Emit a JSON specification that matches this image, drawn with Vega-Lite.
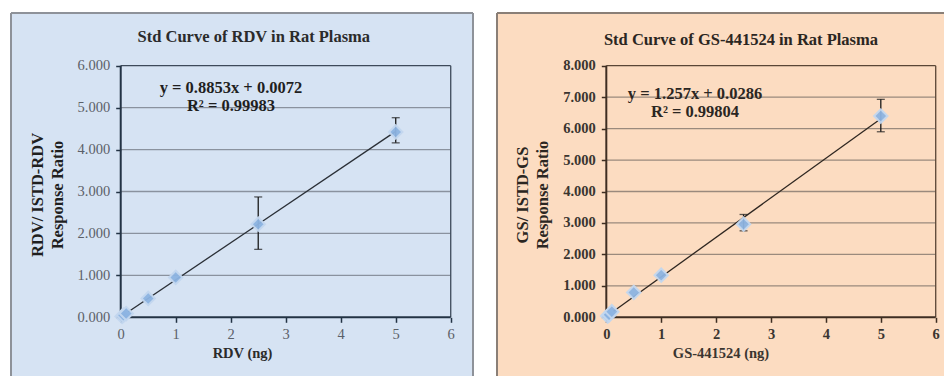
{
  "$schema": "https://vega.github.io/schema/vega-lite/v6.json",
  "padding": {"left": 10, "top": 12, "right": 0, "bottom": 0},
  "background": "white",
  "spacing": 22,
  "config": {"view": {"stroke": null}, "font": "Liberation Serif"},
  "datasets": {
    "rdv": [
      {"x": 0.025, "y": 0.02},
      {"x": 0.05, "y": 0.05},
      {"x": 0.1, "y": 0.09},
      {"x": 0.5, "y": 0.45},
      {"x": 1, "y": 0.95},
      {"x": 2.5, "y": 2.22, "lo": 1.62, "hi": 2.87},
      {"x": 5, "y": 4.42, "lo": 4.16, "hi": 4.76}
    ],
    "gs": [
      {"x": 0.025, "y": 0.04},
      {"x": 0.05, "y": 0.08},
      {"x": 0.1, "y": 0.18},
      {"x": 0.5, "y": 0.79},
      {"x": 1, "y": 1.34},
      {"x": 2.5, "y": 2.96, "lo": 2.75, "hi": 3.27},
      {"x": 5, "y": 6.4, "lo": 5.9, "hi": 6.93}
    ],
    "rdvFit": [{"x": 0.025, "y": 0.0293}, {"x": 5, "y": 4.4337}],
    "gsFit": [{"x": 0.025, "y": 0.06}, {"x": 5, "y": 6.3136}],
    "gridL": [{"g": 1}, {"g": 2}, {"g": 3}, {"g": 4}, {"g": 5}],
    "gridR": [{"g": 1}, {"g": 2}, {"g": 3}, {"g": 4}, {"g": 5}, {"g": 6}, {"g": 7}],
    "one": [{}]
  },
  "hconcat": [
    {
      "width": 462,
      "height": 363,
      "view": {"fill": "#d6e3f3", "stroke": null},
      "resolve": {"axis": {"x": "independent", "y": "independent"}},
      "layer": [
        {
          "data": {"name": "gridL"},
          "mark": {"type": "rule", "color": "#8a929e", "strokeWidth": 1.3},
          "encoding": {
            "y": {"field": "g", "type": "quantitative", "scale": {"domain": [-1.4, 7.257], "nice": false, "zero": false}, "axis": null},
            "x": {"datum": 0, "type": "quantitative", "scale": {"domain": [-1.995, 6.405], "nice": false, "zero": false}, "axis": null},
            "x2": {"datum": 6}
          }
        },
        {
          "data": {"name": "one"},
          "mark": {"type": "rule", "color": "#3d4a5a", "strokeWidth": 1.3},
          "encoding": {
            "y": {"datum": 6, "type": "quantitative", "scale": {"domain": [-1.4, 7.257], "nice": false, "zero": false}, "axis": null},
            "x": {"datum": 0, "type": "quantitative", "scale": {"domain": [-1.995, 6.405], "nice": false, "zero": false}, "axis": null},
            "x2": {"datum": 6}
          }
        },
        {
          "data": {"name": "one"},
          "mark": {"type": "rule", "color": "#3d4a5a", "strokeWidth": 1.3},
          "encoding": {
            "x": {"datum": 6, "type": "quantitative", "scale": {"domain": [-1.995, 6.405], "nice": false, "zero": false}, "axis": null},
            "y": {"datum": 0, "type": "quantitative", "scale": {"domain": [-1.4, 7.257], "nice": false, "zero": false}, "axis": null},
            "y2": {"datum": 6}
          }
        },
        {
          "data": {"name": "one"},
          "mark": {"type": "rule", "color": "#233344", "strokeWidth": 2},
          "encoding": {
            "x": {"datum": 0, "type": "quantitative", "scale": {"domain": [-1.995, 6.405], "nice": false, "zero": false}, "axis": null},
            "y": {"datum": 0, "type": "quantitative", "scale": {"domain": [-1.4, 7.257], "nice": false, "zero": false}, "axis": null},
            "y2": {"datum": 6}
          }
        },
        {
          "data": {"name": "one"},
          "mark": {"type": "rule", "color": "#233344", "strokeWidth": 2},
          "encoding": {
            "y": {"datum": 0, "type": "quantitative", "scale": {"domain": [-1.4, 7.257], "nice": false, "zero": false}, "axis": null},
            "x": {"datum": 0, "type": "quantitative", "scale": {"domain": [-1.995, 6.405], "nice": false, "zero": false}, "axis": null},
            "x2": {"datum": 6}
          }
        },
        {
          "data": {"name": "one"},
          "mark": {"type": "rule", "color": "#8e9299", "strokeWidth": 2},
          "encoding": {
            "x": {"datum": -1.995, "type": "quantitative", "scale": {"domain": [-1.995, 6.405], "nice": false, "zero": false}, "axis": null},
            "y": {"datum": -1.4, "type": "quantitative", "scale": {"domain": [-1.4, 7.257], "nice": false, "zero": false}, "axis": null},
            "y2": {"datum": 7.257}
          }
        },
        {
          "data": {"name": "one"},
          "mark": {"type": "rule", "color": "#8e9299", "strokeWidth": 2},
          "encoding": {
            "x": {"datum": 6.405, "type": "quantitative", "scale": {"domain": [-1.995, 6.405], "nice": false, "zero": false}, "axis": null},
            "y": {"datum": -1.4, "type": "quantitative", "scale": {"domain": [-1.4, 7.257], "nice": false, "zero": false}, "axis": null},
            "y2": {"datum": 7.257}
          }
        },
        {
          "data": {"name": "one"},
          "mark": {"type": "rule", "color": "#8e9299", "strokeWidth": 2},
          "encoding": {
            "y": {"datum": 7.257, "type": "quantitative", "scale": {"domain": [-1.4, 7.257], "nice": false, "zero": false}, "axis": null},
            "x": {"datum": -1.995, "type": "quantitative", "scale": {"domain": [-1.995, 6.405], "nice": false, "zero": false}, "axis": null},
            "x2": {"datum": 6.405}
          }
        },
        {
          "data": {"name": "rdvFit"},
          "mark": {"type": "line", "color": "#2a2f36", "strokeWidth": 1.3},
          "encoding": {
            "x": {"field": "x", "type": "quantitative", "scale": {"domain": [-1.995, 6.405], "nice": false, "zero": false}, "axis": null},
            "y": {"field": "y", "type": "quantitative", "scale": {"domain": [-1.4, 7.257], "nice": false, "zero": false}, "axis": null}
          }
        },
        {
          "data": {"name": "rdv"},
          "transform": [{"filter": "isValid(datum.lo)"}],
          "mark": {"type": "rule", "color": "#1a1a1a", "strokeWidth": 1.3},
          "encoding": {
            "x": {"field": "x", "type": "quantitative", "scale": {"domain": [-1.995, 6.405], "nice": false, "zero": false}, "axis": null},
            "y": {"field": "lo", "type": "quantitative", "scale": {"domain": [-1.4, 7.257], "nice": false, "zero": false}, "axis": null},
            "y2": {"field": "hi"}
          }
        },
        {
          "data": {"name": "rdv"},
          "transform": [{"filter": "isValid(datum.lo)"}, {"fold": ["lo", "hi"], "as": ["k", "v"]}],
          "mark": {"type": "tick", "orient": "horizontal", "color": "#1a1a1a", "size": 8, "thickness": 1.3},
          "encoding": {
            "x": {"field": "x", "type": "quantitative", "scale": {"domain": [-1.995, 6.405], "nice": false, "zero": false}, "axis": null},
            "y": {"field": "v", "type": "quantitative", "scale": {"domain": [-1.4, 7.257], "nice": false, "zero": false}, "axis": null}
          }
        },
        {
          "data": {"name": "rdv"},
          "mark": {"type": "point", "shape": "diamond", "filled": true, "size": 180, "color": "#8db4e2", "stroke": "#c3d7ef", "strokeWidth": 2, "opacity": 0.95},
          "encoding": {
            "x": {
              "field": "x", "type": "quantitative",
              "scale": {"domain": [-1.995, 6.405], "nice": false, "zero": false},
              "axis": {
                "values": [0, 1, 2, 3, 4, 5, 6], "format": "d", "offset": -58.7,
                "domain": false, "grid": false, "tickSize": 5, "tickColor": "#233344", "tickWidth": 1.5,
                "labelFont": "Liberation Serif", "labelFontSize": 14.5, "labelColor": "#5b6068", "labelPadding": 5,
                "labelOverlap": false, "labelFlush": false,
                "title": "RDV (ng)", "titleFont": "Liberation Serif", "titleFontSize": 14.5, "titleFontWeight": "bold",
                "titleColor": "#2b2b2b", "titlePadding": 6
              }
            },
            "y": {
              "field": "y", "type": "quantitative",
              "scale": {"domain": [-1.4, 7.257], "nice": false, "zero": false},
              "axis": {
                "values": [0, 1, 2, 3, 4, 5, 6], "format": ".3f", "offset": -109.7,
                "domain": false, "grid": false, "tickSize": 5, "tickColor": "#233344", "tickWidth": 1.5,
                "labelFont": "Liberation Serif", "labelFontSize": 14.5, "labelColor": "#5b6068", "labelPadding": 6,
                "labelOverlap": false, "labelFlush": false,
                "title": ["RDV/ ISTD-RDV", "Response Ratio"], "titleFont": "Liberation Serif", "titleFontSize": 16.5,
                "titleFontWeight": "bold", "titleColor": "#1f1f1f", "titlePadding": 12, "titleLineHeight": 20
              }
            }
          }
        },
        {
          "data": {"name": "one"},
          "mark": {"type": "text", "text": "Std Curve of RDV in Rat Plasma", "font": "Liberation Serif", "fontSize": 16.5, "fontWeight": "bold", "color": "#2b2b2b", "align": "center", "baseline": "middle"},
          "encoding": {
            "x": {"datum": 2.42, "type": "quantitative", "scale": {"domain": [-1.995, 6.405], "nice": false, "zero": false}, "axis": null},
            "y": {"datum": 6.692, "type": "quantitative", "scale": {"domain": [-1.4, 7.257], "nice": false, "zero": false}, "axis": null}
          }
        },
        {
          "data": {"name": "one"},
          "mark": {"type": "text", "text": ["y = 0.8853x + 0.0072", "R² = 0.99983"], "lineHeight": 18, "font": "Liberation Serif", "fontSize": 16.5, "fontWeight": "bold", "color": "#1f1f1f", "align": "center", "baseline": "middle"},
          "encoding": {
            "x": {"datum": 2.005, "type": "quantitative", "scale": {"domain": [-1.995, 6.405], "nice": false, "zero": false}, "axis": null},
            "y": {"datum": 5.468, "type": "quantitative", "scale": {"domain": [-1.4, 7.257], "nice": false, "zero": false}, "axis": null}
          }
        }
      ]
    },
    {
      "width": 447,
      "height": 363,
      "view": {"fill": "#fcdcc1", "stroke": null},
      "resolve": {"axis": {"x": "independent", "y": "independent"}},
      "layer": [
        {
          "data": {"name": "gridR"},
          "mark": {"type": "rule", "color": "#9a8a7d", "strokeWidth": 1.3},
          "encoding": {
            "y": {"field": "g", "type": "quantitative", "scale": {"domain": [-1.866, 9.676], "nice": false, "zero": false}, "axis": null},
            "x": {"datum": 0, "type": "quantitative", "scale": {"domain": [-1.991, 6.151], "nice": false, "zero": false}, "axis": null},
            "x2": {"datum": 6}
          }
        },
        {
          "data": {"name": "one"},
          "mark": {"type": "rule", "color": "#5a4636", "strokeWidth": 1.3},
          "encoding": {
            "y": {"datum": 8, "type": "quantitative", "scale": {"domain": [-1.866, 9.676], "nice": false, "zero": false}, "axis": null},
            "x": {"datum": 0, "type": "quantitative", "scale": {"domain": [-1.991, 6.151], "nice": false, "zero": false}, "axis": null},
            "x2": {"datum": 6}
          }
        },
        {
          "data": {"name": "one"},
          "mark": {"type": "rule", "color": "#5a4636", "strokeWidth": 1.3},
          "encoding": {
            "x": {"datum": 6, "type": "quantitative", "scale": {"domain": [-1.991, 6.151], "nice": false, "zero": false}, "axis": null},
            "y": {"datum": 0, "type": "quantitative", "scale": {"domain": [-1.866, 9.676], "nice": false, "zero": false}, "axis": null},
            "y2": {"datum": 8}
          }
        },
        {
          "data": {"name": "one"},
          "mark": {"type": "rule", "color": "#3e2e22", "strokeWidth": 2},
          "encoding": {
            "x": {"datum": 0, "type": "quantitative", "scale": {"domain": [-1.991, 6.151], "nice": false, "zero": false}, "axis": null},
            "y": {"datum": 0, "type": "quantitative", "scale": {"domain": [-1.866, 9.676], "nice": false, "zero": false}, "axis": null},
            "y2": {"datum": 8}
          }
        },
        {
          "data": {"name": "one"},
          "mark": {"type": "rule", "color": "#3e2e22", "strokeWidth": 2},
          "encoding": {
            "y": {"datum": 0, "type": "quantitative", "scale": {"domain": [-1.866, 9.676], "nice": false, "zero": false}, "axis": null},
            "x": {"datum": 0, "type": "quantitative", "scale": {"domain": [-1.991, 6.151], "nice": false, "zero": false}, "axis": null},
            "x2": {"datum": 6}
          }
        },
        {
          "data": {"name": "one"},
          "mark": {"type": "rule", "color": "#8a7f77", "strokeWidth": 2},
          "encoding": {
            "x": {"datum": -1.991, "type": "quantitative", "scale": {"domain": [-1.991, 6.151], "nice": false, "zero": false}, "axis": null},
            "y": {"datum": -1.866, "type": "quantitative", "scale": {"domain": [-1.866, 9.676], "nice": false, "zero": false}, "axis": null},
            "y2": {"datum": 9.676}
          }
        },
        {
          "data": {"name": "one"},
          "mark": {"type": "rule", "color": "#8a7f77", "strokeWidth": 2},
          "encoding": {
            "y": {"datum": 9.676, "type": "quantitative", "scale": {"domain": [-1.866, 9.676], "nice": false, "zero": false}, "axis": null},
            "x": {"datum": -1.991, "type": "quantitative", "scale": {"domain": [-1.991, 6.151], "nice": false, "zero": false}, "axis": null},
            "x2": {"datum": 6.151}
          }
        },
        {
          "data": {"name": "gsFit"},
          "mark": {"type": "line", "color": "#2e2620", "strokeWidth": 1.3},
          "encoding": {
            "x": {"field": "x", "type": "quantitative", "scale": {"domain": [-1.991, 6.151], "nice": false, "zero": false}, "axis": null},
            "y": {"field": "y", "type": "quantitative", "scale": {"domain": [-1.866, 9.676], "nice": false, "zero": false}, "axis": null}
          }
        },
        {
          "data": {"name": "gs"},
          "transform": [{"filter": "isValid(datum.lo)"}],
          "mark": {"type": "rule", "color": "#1a1a1a", "strokeWidth": 1.3},
          "encoding": {
            "x": {"field": "x", "type": "quantitative", "scale": {"domain": [-1.991, 6.151], "nice": false, "zero": false}, "axis": null},
            "y": {"field": "lo", "type": "quantitative", "scale": {"domain": [-1.866, 9.676], "nice": false, "zero": false}, "axis": null},
            "y2": {"field": "hi"}
          }
        },
        {
          "data": {"name": "gs"},
          "transform": [{"filter": "isValid(datum.lo)"}, {"fold": ["lo", "hi"], "as": ["k", "v"]}],
          "mark": {"type": "tick", "orient": "horizontal", "color": "#1a1a1a", "size": 8, "thickness": 1.3},
          "encoding": {
            "x": {"field": "x", "type": "quantitative", "scale": {"domain": [-1.991, 6.151], "nice": false, "zero": false}, "axis": null},
            "y": {"field": "v", "type": "quantitative", "scale": {"domain": [-1.866, 9.676], "nice": false, "zero": false}, "axis": null}
          }
        },
        {
          "data": {"name": "gs"},
          "mark": {"type": "point", "shape": "diamond", "filled": true, "size": 180, "color": "#8db4e2", "stroke": "#c3d7ef", "strokeWidth": 2, "opacity": 0.95},
          "encoding": {
            "x": {
              "field": "x", "type": "quantitative",
              "scale": {"domain": [-1.991, 6.151], "nice": false, "zero": false},
              "axis": {
                "values": [0, 1, 2, 3, 4, 5, 6], "format": "d", "offset": -58.7,
                "domain": false, "grid": false, "tickSize": 5, "tickColor": "#3e2e22", "tickWidth": 1.5,
                "labelFont": "Liberation Serif", "labelFontSize": 14.5, "labelFontWeight": "bold", "labelColor": "#3a3530", "labelPadding": 5,
                "labelOverlap": false, "labelFlush": false,
                "title": "GS-441524 (ng)", "titleFont": "Liberation Serif", "titleFontSize": 14.5, "titleFontWeight": "bold",
                "titleColor": "#3a3530", "titlePadding": 6
              }
            },
            "y": {
              "field": "y", "type": "quantitative",
              "scale": {"domain": [-1.866, 9.676], "nice": false, "zero": false},
              "axis": {
                "values": [0, 1, 2, 3, 4, 5, 6, 7, 8], "format": ".3f", "offset": -109.3,
                "domain": false, "grid": false, "tickSize": 5, "tickColor": "#3e2e22", "tickWidth": 1.5,
                "labelFont": "Liberation Serif", "labelFontSize": 14.5, "labelFontWeight": "bold", "labelColor": "#3a3530", "labelPadding": 6,
                "labelOverlap": false, "labelFlush": false,
                "title": ["GS/ ISTD-GS", "Response Ratio"], "titleFont": "Liberation Serif", "titleFontSize": 16.5,
                "titleFontWeight": "bold", "titleColor": "#2b2622", "titlePadding": 12, "titleLineHeight": 20
              }
            }
          }
        },
        {
          "data": {"name": "one"},
          "mark": {"type": "text", "text": "Std Curve of GS-441524 in Rat Plasma", "font": "Liberation Serif", "fontSize": 16.5, "fontWeight": "bold", "color": "#2b2622", "align": "center", "baseline": "middle"},
          "encoding": {
            "x": {"datum": 2.453, "type": "quantitative", "scale": {"domain": [-1.991, 6.151], "nice": false, "zero": false}, "axis": null},
            "y": {"datum": 8.817, "type": "quantitative", "scale": {"domain": [-1.866, 9.676], "nice": false, "zero": false}, "axis": null}
          }
        },
        {
          "data": {"name": "one"},
          "mark": {"type": "text", "text": ["y = 1.257x + 0.0286", "R² = 0.99804"], "lineHeight": 18, "font": "Liberation Serif", "fontSize": 16.5, "fontWeight": "bold", "color": "#2b2622", "align": "center", "baseline": "middle"},
          "encoding": {
            "x": {"datum": 1.616, "type": "quantitative", "scale": {"domain": [-1.991, 6.151], "nice": false, "zero": false}, "axis": null},
            "y": {"datum": 7.085, "type": "quantitative", "scale": {"domain": [-1.866, 9.676], "nice": false, "zero": false}, "axis": null}
          }
        }
      ]
    }
  ]
}
